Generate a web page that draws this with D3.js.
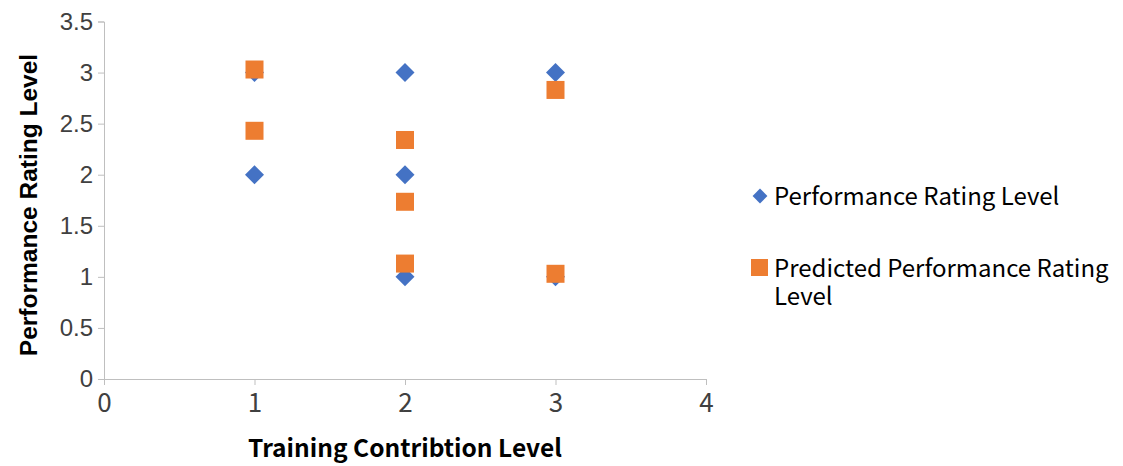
<!DOCTYPE html>
<html>
<head>
<meta charset="utf-8">
<script src="https://cdn.jsdelivr.net/npm/d3@7"></script>
<style>
  body { margin: 0; background: #fff; }
  .tick text { fill: #404040; }
</style>
</head>
<body>
<div id="chart"></div>
<script>
// training level vs rating
var actualX = [1, 1, 2, 2, 2, 3, 3];
var actualY = [3, 2, 3, 2, 1, 3, 1];
var predictedX = [1, 1, 2, 2, 2, 3, 3];
var predictedY = [3.03, 2.43, 2.34, 1.735, 1.13, 2.83, 1.03];
var xTicks = [0, 1, 2, 3, 4];
var yTicks = [0, 0.5, 1, 1.5, 2, 2.5, 3, 3.5];
var seriesNames = ["Performance Rating Level", "Predicted Performance Rating Level"];

var width = 1123, height = 466;
var plotLeft = 104, plotRight = 706, plotTop = 21.5, plotBottom = 379;

var svg = d3.select("#chart").append("svg")
    .attr("width", width)
    .attr("height", height);

var x = d3.scaleLinear().domain([0, 4]).range([plotLeft, plotRight]);
var y = d3.scaleLinear().domain([0, 3.5]).range([plotBottom, plotTop]);

var xAxis = svg.append("g")
    .attr("transform", "translate(0," + plotBottom + ")")
    .call(d3.axisBottom(x).tickValues(xTicks).tickSize(6).tickPadding(9).tickFormat(d3.format("d")));
xAxis.selectAll("text")
    .attr("font-family", "'Noto Sans CJK SC', sans-serif")
    .attr("font-size", 26);

var yAxis = svg.append("g")
    .attr("transform", "translate(" + plotLeft + ",0)")
    .call(d3.axisLeft(y).tickValues(yTicks).tickSize(6).tickPadding(5).tickFormat(function (d) { return d; }));
yAxis.selectAll("text")
    .attr("font-family", "'Liberation Sans', Arial, sans-serif")
    .attr("font-size", 24);

svg.selectAll(".domain, .tick line").attr("stroke", "#bfbfbf");

svg.append("text")
    .attr("x", 405).attr("y", 457)
    .attr("text-anchor", "middle")
    .style("font-family", "'Noto Sans CJK SC', sans-serif")
    .style("font-weight", "bold")
    .style("font-size", "24.5px")
    .attr("fill", "#000")
    .text("Training Contribtion Level");

svg.append("text")
    .attr("transform", "translate(37," + 205 + ") rotate(-90)")
    .attr("text-anchor", "middle")
    .style("font-family", "'Liberation Sans', Arial, sans-serif")
    .style("font-weight", "bold")
    .style("font-size", "24.5px")
    .attr("fill", "#000")
    .text("Performance Rating Level");

var diamond = d3.symbol().type(d3.symbolSquare).size(180);

svg.append("g").selectAll("path")
    .data(actualX.map(function (d, i) { return [d, actualY[i]]; }))
    .enter().append("path")
    .attr("d", diamond)
    .attr("transform", function (d) { return "translate(" + x(d[0]) + "," + y(d[1]) + ") rotate(45)"; })
    .attr("fill", "#4472c4");

var sq = 18;
svg.append("g").selectAll("rect")
    .data(predictedX.map(function (d, i) { return [d, predictedY[i]]; }))
    .enter().append("rect")
    .attr("x", function (d) { return x(d[0]) - sq / 2; })
    .attr("y", function (d) { return y(d[1]) - sq / 2; })
    .attr("width", sq).attr("height", sq)
    .attr("fill", "#ed7d31");

// legend
var legend = svg.append("g").style("font-family", "'Noto Sans CJK SC', sans-serif").style("font-size", "24px");
legend.append("path")
    .attr("d", d3.symbol().type(d3.symbolSquare).size(110))
    .attr("transform", "translate(760,196) rotate(45)")
    .attr("fill", "#4472c4");
legend.append("text").attr("x", 774).attr("y", 205).attr("fill", "#000").text(seriesNames[0]);
legend.append("rect").attr("x", 751).attr("y", 259).attr("width", 17).attr("height", 17).attr("fill", "#ed7d31");
legend.append("text").attr("x", 774).attr("y", 277).attr("fill", "#000").text("Predicted Performance Rating");
legend.append("text").attr("x", 774).attr("y", 305).attr("fill", "#000").text("Level");
</script>
</body>
</html>
